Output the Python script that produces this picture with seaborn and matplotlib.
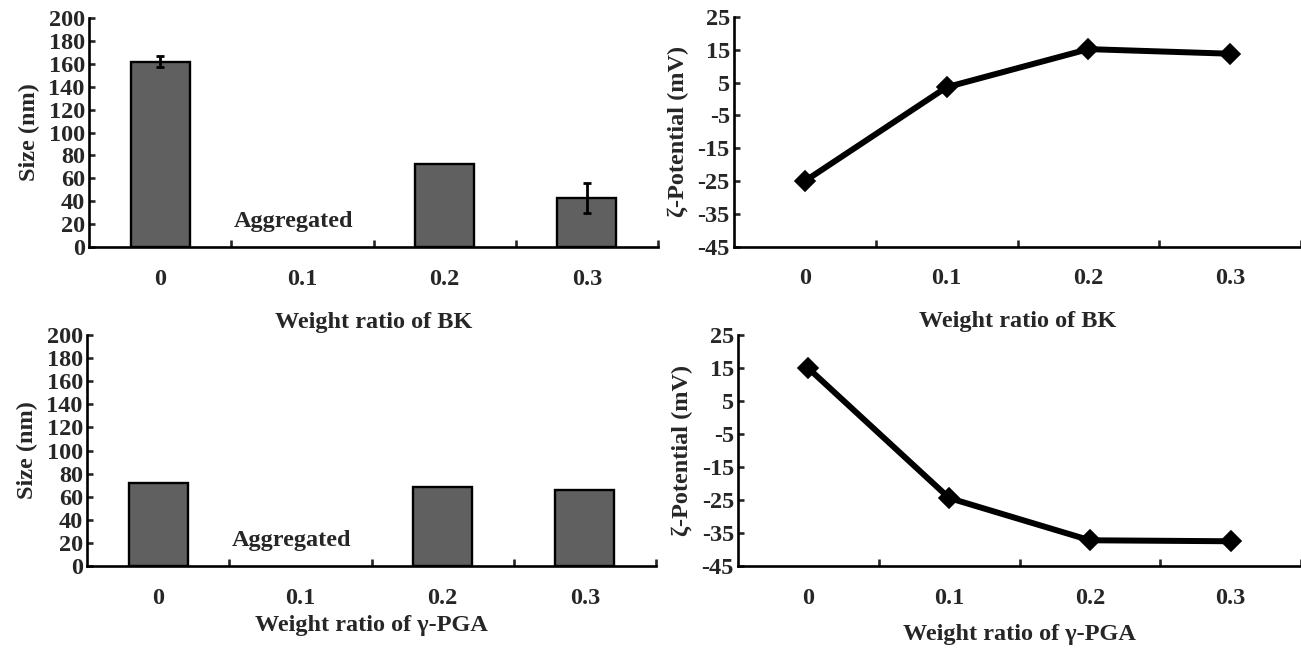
import numpy as np
import pandas as pd
import matplotlib
matplotlib.use('Agg')
import matplotlib.pyplot as plt
import seaborn as sns

# data
ratios = ['0', '0.1', '0.2', '0.3']
bk_size = [162.0, np.nan, 72.5, 42.8]
bk_size_err = [4.7, np.nan, np.nan, 13.5]
pga_size = [72.0, np.nan, 68.5, 66.0]
bk_zeta = [-25.0, 3.6, 15.2, 13.8]
pga_zeta = [14.9, -24.4, -37.2, -37.5]

size_ticks = list(range(0, 201, 20))
zeta_ticks = list(range(-45, 26, 10))

sns.set_style('ticks')
plt.rcParams['font.family'] = ['Liberation Serif', 'DejaVu Serif']
plt.rcParams['font.weight'] = 'bold'
plt.rcParams['axes.labelweight'] = 'bold'
plt.rcParams['axes.unicode_minus'] = False

FS = 17.5
SPINE = 1.9


def style_axes(ax, yticks, xlabel, ylabel, xlabelpad):
    ax.set_xlim(-0.5, 3.5)
    ax.set_ylim(yticks[0], yticks[-1])
    sns.despine(ax=ax)
    for side in ('left', 'bottom'):
        ax.spines[side].set_linewidth(SPINE)
        ax.spines[side].set_color('black')
    ax.set_yticks(yticks)
    ax.set_yticklabels([str(t) for t in yticks], fontsize=FS, fontweight='bold')
    ax.tick_params(axis='y', direction='in', length=4, width=SPINE, pad=3)
    # boundary ticks (unlabelled) + category labels (no tick)
    ax.set_xticks([0.5, 1.5, 2.5, 3.5])
    ax.set_xticklabels([])
    ax.tick_params(axis='x', which='major', direction='in', length=5, width=SPINE)
    ax.set_xticks(range(len(ratios)), minor=True)
    ax.set_xticklabels(ratios, minor=True, fontsize=FS, fontweight='bold')
    ax.tick_params(axis='x', which='minor', length=0, pad=15.5)
    ax.set_xlabel(xlabel, fontsize=FS, fontweight='bold', labelpad=xlabelpad)
    ax.set_ylabel(ylabel, fontsize=FS, fontweight='bold', labelpad=6)


def size_panel(ax, values, errs, xlabel, xlabelpad):
    df = pd.DataFrame({'ratio': ratios, 'size': values})
    sns.barplot(data=df, x='ratio', y='size', order=ratios, ax=ax,
                color='#606060', saturation=1, width=0.415,
                edgecolor='black', linewidth=1.7, errorbar=None)
    if errs is not None:
        xs = [i for i, e in enumerate(errs) if not np.isnan(e)]
        ax.errorbar(xs, [values[i] for i in xs], yerr=[errs[i] for i in xs],
                    fmt='none', ecolor='black', elinewidth=2.0,
                    capsize=3, capthick=2.0, zorder=5)
    ax.text(0.94, 22, 'Aggregated', ha='center', va='center',
            fontsize=FS, fontweight='bold')
    style_axes(ax, size_ticks, xlabel, 'Size (nm)', xlabelpad)


def zeta_panel(ax, values, xlabel, xlabelpad):
    df = pd.DataFrame({'ratio': ratios, 'zeta': values})
    sns.pointplot(data=df, x='ratio', y='zeta', order=ratios, ax=ax,
                  color='black', markers='D', errorbar=None,
                  linewidth=4.3, markersize=8)
    style_axes(ax, zeta_ticks, xlabel, '\u03b6-Potential (mV)', xlabelpad)


fig = plt.figure(figsize=(13.01, 6.5), dpi=100)
ax_tl = fig.add_axes([0.0684, 0.620, 0.4374, 0.3523])
ax_tr = fig.add_axes([0.5642, 0.6205, 0.4358, 0.3534])
ax_bl = fig.add_axes([0.0669, 0.1292, 0.4374, 0.3554])
ax_br = fig.add_axes([0.5673, 0.1292, 0.4327, 0.3554])

size_panel(ax_tl, bk_size, bk_size_err, 'Weight ratio of BK', 16)
zeta_panel(ax_tr, bk_zeta, 'Weight ratio of BK', 16)
size_panel(ax_bl, pga_size, None, 'Weight ratio of \u03b3-PGA', 5)
zeta_panel(ax_br, pga_zeta, 'Weight ratio of \u03b3-PGA', 11)

fig.savefig('out.png', dpi=100)
